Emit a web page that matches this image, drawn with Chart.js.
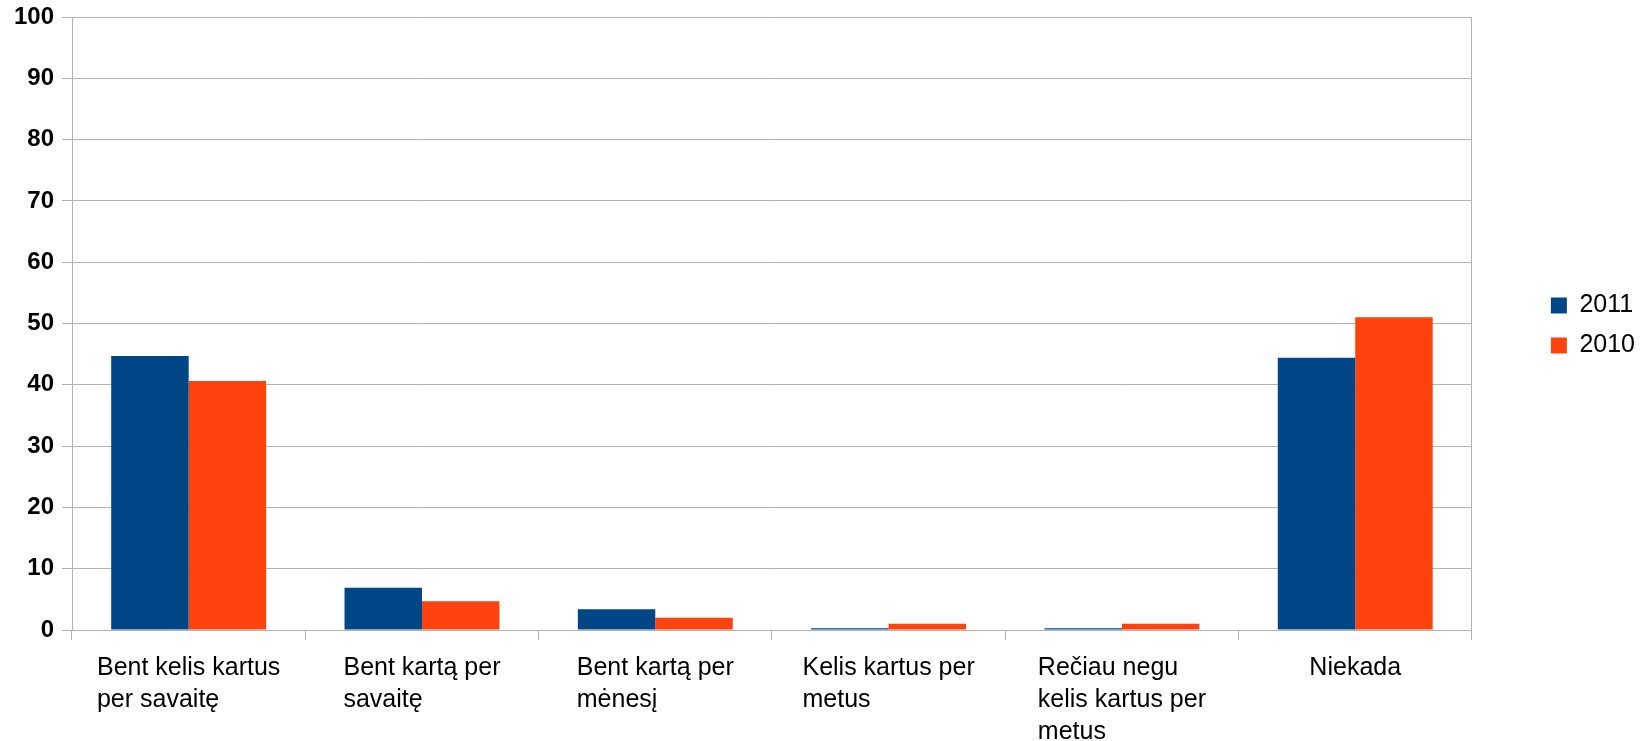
<!DOCTYPE html>
<html>
<head>
<meta charset="utf-8">
<script src="https://cdn.jsdelivr.net/npm/chart.js@4"></script>
<style>
  html, body { margin: 0; padding: 0; background: #fff; }
  #wrap { width: 1646px; height: 741px; position: relative; }
</style>
</head>
<body>
<div id="wrap"><canvas id="chart"></canvas></div>
<script>
const categories = [
  ["Bent kelis kartus", "per savaitę"],
  ["Bent kartą per", "savaitę"],
  ["Bent kartą per", "mėnesį"],
  ["Kelis kartus per", "metus"],
  ["Rečiau negu", "kelis kartus per", "metus"],
  ["Niekada"]
];
const values2011 = [44.7, 6.9, 3.4, 0.3, 0.3, 44.4];
const values2010 = [40.6, 4.7, 2.0, 1.0, 1.0, 51.0];
const seriesNames = ["2011", "2010"];
const yTicks = [0, 10, 20, 30, 40, 50, 60, 70, 80, 90, 100];

const FONT = '"Liberation Sans", Arial, sans-serif';
const gridGray = "#b3b3b3";
const labelFont = `25px ${FONT}`;

// category labels: lines left aligned inside a block centred on the category
const categoryLabels = {
  id: "categoryLabels",
  afterDraw(chart) {
    const xs = chart.scales.x;
    const c = chart.ctx;
    c.save();
    c.font = labelFont;
    c.fillStyle = "#000";
    c.textAlign = "left";
    c.textBaseline = "alphabetic";
    categories.forEach((lines, i) => {
      const cx = xs.getPixelForValue(i);
      const w = Math.max(...lines.map(l => c.measureText(l).width));
      lines.forEach((line, j) => {
        c.fillText(line, cx - w / 2, xs.top + 45 + j * 32);
      });
    });
    c.restore();
  }
};

const ctx = document.getElementById("chart");
new Chart(ctx, {
  type: "bar",
  data: {
    labels: categories.map(l => l.join(" ")),
    datasets: [
      { label: seriesNames[0], data: values2011, backgroundColor: "#004586" },
      { label: seriesNames[1], data: values2010, backgroundColor: "#ff420e" }
    ]
  },
  plugins: [categoryLabels],
  options: {
    responsive: true,
    maintainAspectRatio: false,
    animation: false,
    datasets: { bar: { barPercentage: 1, categoryPercentage: 0.664 } },
    layout: { padding: { top: 17, left: 0, right: 1, bottom: 0 } },
    plugins: {
      tooltip: { enabled: false },
      legend: {
        position: "right",
        align: "start",
        title: { display: true, text: "", font: { size: 10 }, padding: { top: 249, bottom: 0 } },
        labels: {
          boxWidth: 16,
          boxHeight: 16,
          padding: 15,
          color: "#000",
          font: { family: FONT, size: 25 }
        }
      }
    },
    scales: {
      x: {
        grid: {
          offset: true,
          drawOnChartArea: false,
          drawTicks: true,
          tickLength: 10,
          color: gridGray,
          tickColor: gridGray
        },
        border: { color: gridGray },
        ticks: { display: true, color: "rgba(0,0,0,0)", autoSkip: false, maxRotation: 0 },
        afterFit: (s) => { s.height = 111; s.paddingLeft = 0; s.paddingRight = 0; }
      },
      y: {
        min: 0,
        max: 100,
        afterBuildTicks: (s) => { s.ticks = yTicks.map(v => ({ value: v })); },
        grid: { color: gridGray, tickLength: 10, tickColor: gridGray },
        border: { color: gridGray },
        ticks: {
          color: "#000",
          padding: 8,
          font: { family: FONT, size: 24, weight: "bold" }
        },
        afterFit: (s) => { s.width = 72; s.paddingTop = 0; s.paddingBottom = 0; }
      },
      yRight: {
        position: "right",
        min: 0,
        max: 100,
        grid: { drawOnChartArea: false, drawTicks: false },
        border: { color: gridGray },
        ticks: { display: false },
        afterFit: (s) => { s.width = 64; s.paddingTop = 0; s.paddingBottom = 0; }
      }
    }
  }
});
</script>
</body>
</html>
